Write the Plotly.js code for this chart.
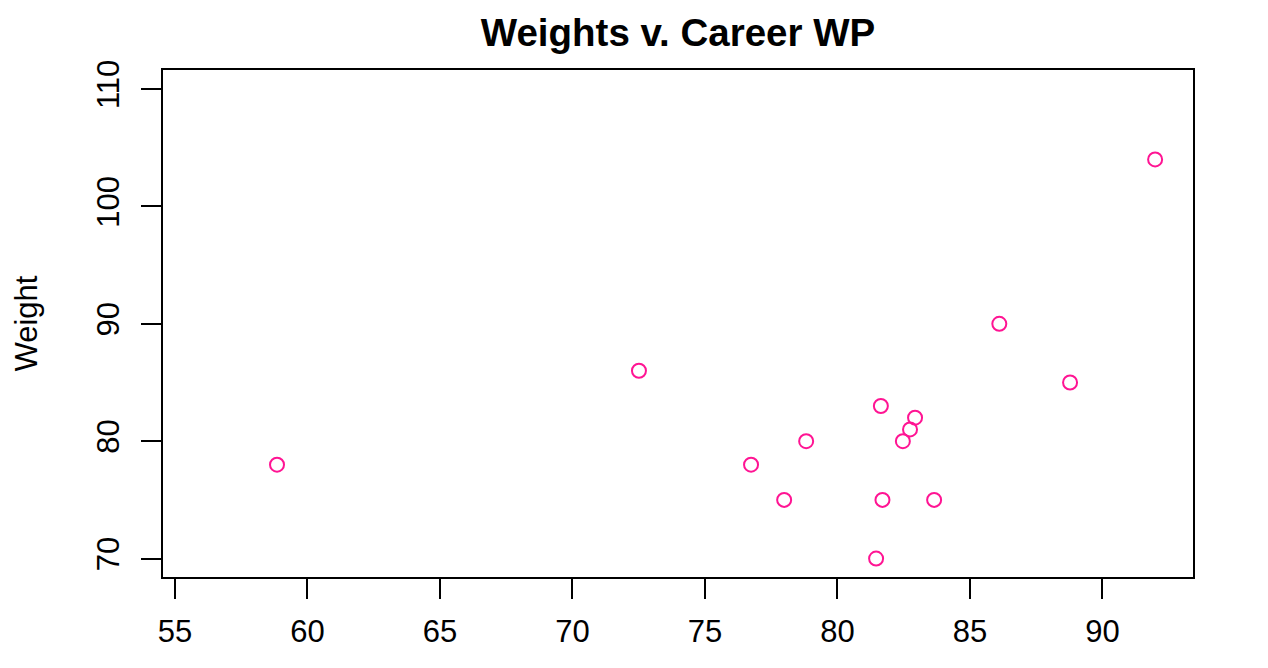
<!DOCTYPE html>
<html>
<head>
<meta charset="utf-8">
<script src="https://cdn.plot.ly/plotly-3.0.1.min.js"></script>
<style>html,body{margin:0;padding:0;background:#fff;}#chart{width:1268px;height:668px;}</style>
</head>
<body>
<div id="chart"></div>
<script>
var careerWP = [58.85, 72.51, 76.74, 77.99, 78.82, 81.46, 81.64, 81.70, 82.47, 82.74, 82.93, 83.65, 86.11, 88.78, 91.99];
var weights  = [78, 86, 78, 75, 80, 70, 83, 75, 80, 81, 82, 75, 90, 85, 104];
var xTicks = [55, 60, 65, 70, 75, 80, 85, 90];
var yTicks = [70, 80, 90, 100, 110];

var FONT = "Liberation Sans, Arial, Helvetica, sans-serif";

var trace = {
  x: careerWP,
  y: weights,
  type: 'scatter',
  mode: 'markers',
  marker: {symbol: 'circle-open', size: 14, color: '#FF1493', line: {width: 2, color: '#FF1493'}},
  hoverinfo: 'x+y'
};

var layout = {
  width: 1268, height: 668,
  margin: {l: 163, r: 75, t: 70, b: 90.5, pad: 0},
  paper_bgcolor: '#fff', plot_bgcolor: '#fff',
  showlegend: false,
  font: {family: FONT, color: '#000', size: 31},
  title: {text: '<b>Weights v. Career WP</b>', font: {family: FONT, size: 38.5, color: '#000'},
          x: 0.5, xref: 'paper', y: 0.951, yref: 'container', yanchor: 'middle'},
  xaxis: {
    range: [54.547, 93.42], tickvals: xTicks, ticktext: xTicks.map(String),
    showgrid: false, zeroline: false,
    showline: true, mirror: true, linecolor: '#000', linewidth: 2,
    ticks: 'outside', ticklen: 20, tickwidth: 2, tickcolor: '#000',
    tickfont: {family: FONT, size: 31, color: '#000'},
    ticklabelstandoff: 6
  },
  yaxis: {
    range: [68.43, 111.62], tickvals: yTicks, ticktext: yTicks.map(String),
    showgrid: false, zeroline: false,
    showline: true, mirror: true, linecolor: '#000', linewidth: 2,
    ticks: 'outside', ticklen: 20, tickwidth: 2, tickcolor: '#000',
    tickangle: -90,
    tickfont: {family: FONT, size: 31, color: '#000'},
    ticklabelstandoff: 10,
    title: {text: 'Weight', font: {family: FONT, size: 31, color: '#000'}, standoff: 44}
  }
};

Plotly.newPlot('chart', [trace], layout, {displayModeBar: false, staticPlot: true});
</script>
</body>
</html>
